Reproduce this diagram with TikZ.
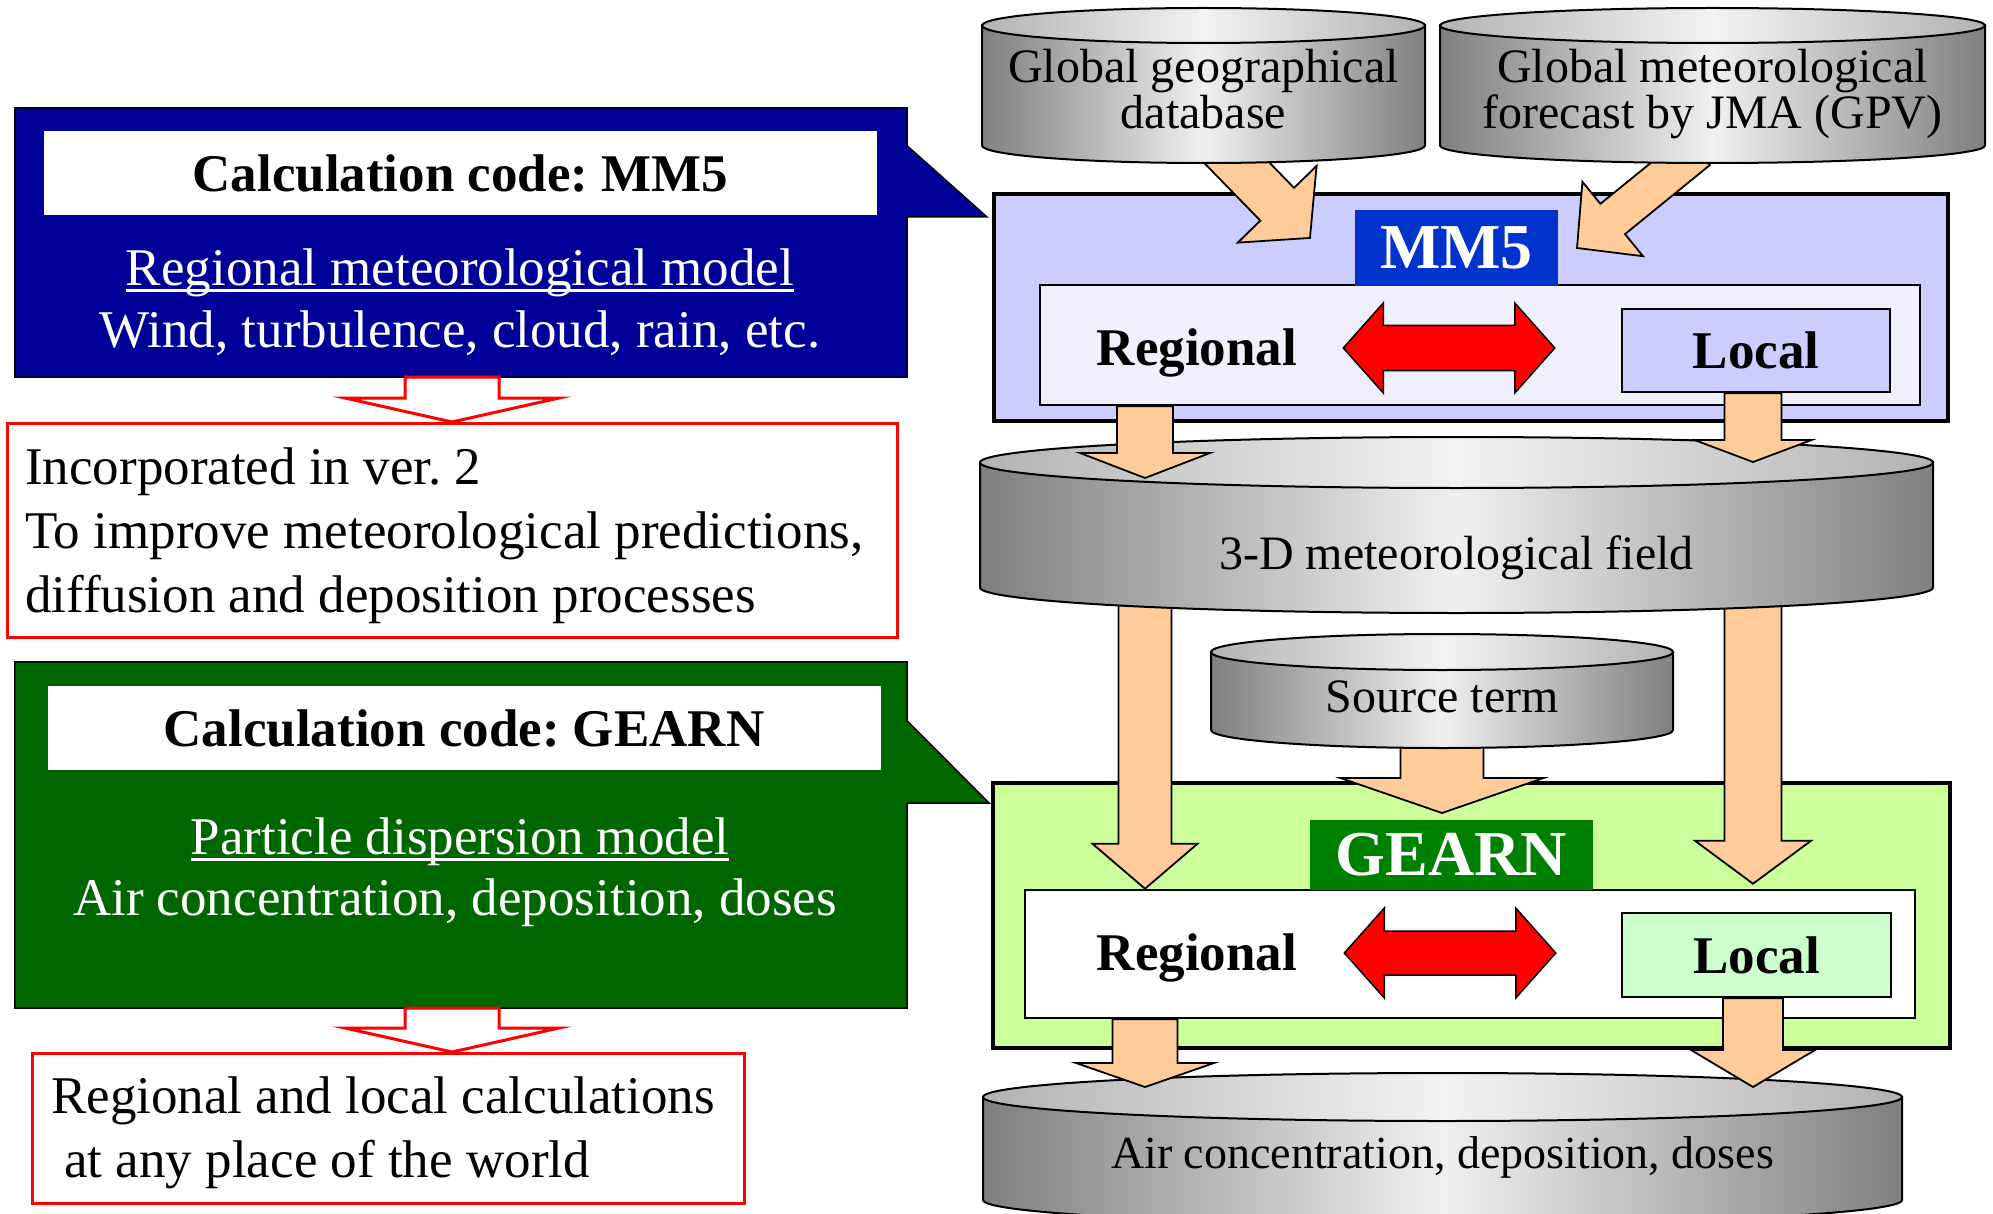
\documentclass[tikz,border=0pt]{standalone}
\usepackage{fontspec}
\setmainfont{Liberation Serif}
\usetikzlibrary{calc}

\definecolor{mmnavy}{RGB}{0,0,153}
\definecolor{gnforest}{RGB}{0,102,0}
\definecolor{mmlav}{RGB}{204,204,255}
\definecolor{mmpale}{RGB}{240,240,252}
\definecolor{mmtagblue}{RGB}{0,51,204}
\definecolor{gnlime}{RGB}{204,255,153}
\definecolor{gntaggreen}{RGB}{0,128,0}
\definecolor{gnmint}{RGB}{204,255,204}
\definecolor{peach}{RGB}{255,204,153}

\pgfdeclarelayer{boxes}
\pgfdeclarelayer{front}
\pgfsetlayers{boxes,main,front}

\frenchspacing
\newcommand{\ulwhite}[1]{\setbox0=\hbox{#1}\rlap{\rule[-6pt]{\wd0}{2.5pt}}\box0}

\tikzset{
  notetext/.style={font=\fontsize{53}{64}\selectfont, inner sep=0pt},
  headbox/.style={fill=white, inner sep=0pt, font=\bfseries\fontsize{53}{64}\selectfont},
  callout/.style={fill=#1, draw=black, line width=1.5pt},
  redbox/.style={draw=red, line width=3pt, fill=white},
  hollowarrow/.style={fill=white, draw=red, line width=3pt},
  modelbox/.style={draw=black, line width=4pt},
  winbox/.style={draw=black, line width=2.5pt},
  codetag/.style={text=white, inner sep=0pt, font=\bfseries\fontsize{64}{70}\selectfont},
  scaletext/.style={inner sep=0pt, font=\bfseries\fontsize{53}{60}\selectfont},
  localbox/.style={draw=black, line width=2.5pt, inner sep=0pt, font=\bfseries\fontsize{53}{60}\selectfont},
  swaparrow/.style={fill=red, draw=black, line width=1.5pt},
  peacharrow/.style={fill=peach, draw=black, line width=1.8pt},
  drumside/.style={draw=black, line width=2pt, left color=black!50, right color=black!50, middle color=black!6},
  drumtop/.style={draw=black, line width=2pt, left color=black!30, right color=black!30, middle color=black!5},
  drumtext/.style={font=\fontsize{48}{46}\selectfont, align=center, inner sep=0pt}
}

\newcommand{\fatarrow}[6][]{%
  \path (#2); \pgfgetlastxy{\fax}{\fay}%
  \path (#3); \pgfgetlastxy{\fbx}{\fby}%
  \pgfmathsetmacro{\faang}{atan2((\fby)-(\fay),(\fbx)-(\fax))}%
  \pgfmathsetmacro{\falen}{veclen((\fbx)-(\fax),(\fby)-(\fay))}%
  \pgfmathsetmacro{\faneck}{\falen-#6}%
  \path[#1, shift={(\fax,\fay)}, rotate=\faang]
    (0pt,-#4pt) -- (\faneck pt,-#4pt) -- (\faneck pt,-#5pt) -- (\falen pt,0pt)
    -- (\faneck pt,#5pt) -- (\faneck pt,#4pt) -- (0pt,#4pt) -- cycle;}

\newcommand{\twinarrow}[6][]{%
  \path (#2); \pgfgetlastxy{\fax}{\fay}%
  \path (#3); \pgfgetlastxy{\fbx}{\fby}%
  \pgfmathsetmacro{\faang}{atan2((\fby)-(\fay),(\fbx)-(\fax))}%
  \pgfmathsetmacro{\falen}{veclen((\fbx)-(\fax),(\fby)-(\fay))}%
  \pgfmathsetmacro{\faneck}{\falen-#6}%
  \path[#1, shift={(\fax,\fay)}, rotate=\faang]
    (0pt,0pt) -- (#6pt,#5pt) -- (#6pt,#4pt) -- (\faneck pt,#4pt) -- (\faneck pt,#5pt)
    -- (\falen pt,0pt) -- (\faneck pt,-#5pt) -- (\faneck pt,-#4pt) -- (#6pt,-#4pt)
    -- (#6pt,-#5pt) -- cycle;}

\newcommand{\drum}[8]{%
  \path[drumside] (#2,#4-#6) -- (#2,#5+#6)
    arc[start angle=180, end angle=360, x radius={(#3-#2)/2}, y radius=#6]
    -- (#3,#4-#6) -- cycle;
  \path[drumtop] ({(#2+#3)/2},#4-#6) ellipse[x radius={(#3-#2)/2}, y radius=#6];
  \coordinate (#1-top) at ({(#2+#3)/2},#4);
  \coordinate (#1-bot) at ({(#2+#3)/2},#5);
  \node[drumtext] (#1) at ({(#2+#3)/2},#7) {#8};}

\begin{document}
\begin{tikzpicture}[x=1pt,y=1pt]
  \useasboundingbox (0,0) rectangle (1993,-1214);
  \clip (0,0) rectangle (1993,-1214);
  \coordinate (colL) at (1145,0);
  \coordinate (colR) at (1753,0);
  \coordinate (redcol) at (452,0);

  \begin{pgfonlayer}{boxes}
    \node[modelbox, fill=mmlav, minimum width=954pt, minimum height=227pt] (mmbox) at (1471,-307.5) {};
    \node[winbox, fill=mmpale, minimum width=880pt, minimum height=120pt] (mmwin) at (1480,-345) {};
    \node[codetag, fill=mmtagblue, minimum width=203pt, minimum height=76pt] (mmtag) at (1456.5,-248) {MM5};
    \node[scaletext] (mmreg) at (1197,-353) {Regional};
    \node[localbox, fill=mmlav, minimum width=268pt, minimum height=83pt] (mmloc) at (1756,-350.5) {Local};
    \twinarrow[swaparrow]{$(mmreg.east)+(46,5)$}{$(mmreg.east -| mmloc.west)+(-66,5)$}{22.5}{45}{40}

    \node[modelbox, fill=gnlime, minimum width=957pt, minimum height=265pt] (gnbox) at (1471.5,-915.5) {};
    \node[winbox, fill=white, minimum width=890pt, minimum height=128pt] (gnwin) at (1470,-954) {};
    \node[codetag, fill=gntaggreen, minimum width=283pt, minimum height=70pt] (gntag) at (1451.5,-855) {GEARN};
    \node[scaletext] (gnreg) at (1197,-958) {Regional};
    \node[localbox, fill=gnmint, minimum width=269pt, minimum height=84pt] (gnloc) at (1756.5,-955) {Local};
    \twinarrow[swaparrow]{$(gnreg.east)+(47,5)$}{$(gnreg.east -| gnloc.west)+(-65,5)$}{22}{45}{40}
  \end{pgfonlayer}

  \drum{geo}{982}{1425}{-8}{-163}{17.5}{-89}{Global geographical\\database}
  \drum{gpv}{1440}{1985}{-8}{-163}{17.5}{-94}{Global meteorological\\forecast by JMA (GPV)}
  \drum{fld}{980}{1933}{-437}{-613}{25.5}{-558}{3-D meteorological field}
  \drum{src}{1211}{1673}{-634}{-748}{18}{-697}{Source term}
  \drum{air}{983}{1902}{-1073}{-1224}{24}{-1157}{\fontsize{46}{46}\selectfont Air concentration, deposition, doses}

  \coordinate (geo-in) at (1310,-238);
  \coordinate (gpv-in) at (1577,-248);
  \begin{pgfonlayer}{boxes}
    \fatarrow[peacharrow]{$(geo-bot)+(16,18)$}{geo-in}{23.5}{55}{47}
    \fatarrow[peacharrow]{$(gpv-bot)+(-15,13)$}{gpv-in}{19.5}{48}{46}
    \fatarrow[peacharrow]{$(fld-bot -| colL)+(0,20)$}{gnwin.north -| colL}{26.5}{52.5}{45}
    \fatarrow[peacharrow]{$(fld-bot -| colR)+(0,20)$}{$(gnwin.north -| colR)+(0,5)$}{28.5}{58}{43}
    \fatarrow[peacharrow]{$(src-bot)+(0,12)$}{$(gnbox.north -| src-bot)+(0,-32)$}{41.5}{101.5}{35}
  \end{pgfonlayer}
  \begin{pgfonlayer}{front}
    \fatarrow[peacharrow]{mmwin.south -| colL}{$(fld-top -| colL)+(0,-41)$}{28}{65}{25}
    \fatarrow[peacharrow]{mmloc.south -| colR}{$(fld-top -| colR)+(0,-25)$}{28.5}{58.5}{22}
    \fatarrow[peacharrow]{gnwin.south -| colL}{$(air-top -| colL)+(0,-14)$}{32.5}{69}{24}
    \fatarrow[peacharrow]{gnloc.south -| colR}{$(air-top -| colR)+(0,-14)$}{30}{62}{37}
  \end{pgfonlayer}

  \node[inner sep=0pt, minimum width=892pt, minimum height=269pt] (mmnote) at (461,-242.5) {};
  \coordinate (mmtip) at ($(mmbox.north west)+(-5,-25)$);
  \path[callout=mmnavy] (mmnote.north west) -- (mmnote.north east) -- ($(mmnote.north east)+(0,-38)$)
    -- (mmtip) -- (mmnote.east |- mmtip) -- (mmnote.south east) -- (mmnote.south west) -- cycle;
  \node[headbox, minimum width=833pt, minimum height=84pt] (mmhead) at (460.5,-173.5) {Calculation code: MM5};
  \node[notetext, text=white] (mmsub) at (460,-273) {\ulwhite{Regional meteorological model}};
  \node[notetext, text=white] (mmwhat) at (460,-333) {Wind, turbulence, cloud, rain, etc.};

  \node[redbox, anchor=north west, minimum width=890pt, minimum height=214pt] (note1) at (6,-422) {};
  \node[notetext, anchor=west, align=left] (note1txt) at ($(note1.west)+(19,-5)$)
    {Incorporated in ver. 2\\To improve meteorological predictions,\\diffusion and deposition processes};
  \fatarrow[hollowarrow]{mmnote.south -| redcol}{note1.north -| redcol}{47}{107}{24}

  \node[inner sep=0pt, minimum width=892pt, minimum height=346pt] (gnnote) at (461,-835) {};
  \coordinate (gntip) at ($(gnbox.north west)+(-2,-22)$);
  \path[callout=gnforest] (gnnote.north west) -- (gnnote.north east) -- ($(gnnote.north east)+(0,-59)$)
    -- (gntip) -- (gnnote.east |- gntip) -- (gnnote.south east) -- (gnnote.south west) -- cycle;
  \node[headbox, minimum width=833pt, minimum height=84pt] (gnhead) at (464,-728) {Calculation code: GEARN};
  \node[notetext, text=white] (gnsub) at (460,-842) {\ulwhite{Particle dispersion model}};
  \node[notetext, text=white] (gnwhat) at (455,-903) {Air concentration, deposition, doses};

  \node[redbox, anchor=north west, minimum width=712pt, minimum height=150pt] (note2) at (31,-1052) {};
  \node[notetext, anchor=west, align=left] (note2txt) at ($(note2.west)+(20,-4)$)
    {Regional and local calculations\\~at any place of the world};
  \fatarrow[hollowarrow]{gnnote.south -| redcol}{note2.north -| redcol}{47}{107}{24}
\end{tikzpicture}
\end{document}
